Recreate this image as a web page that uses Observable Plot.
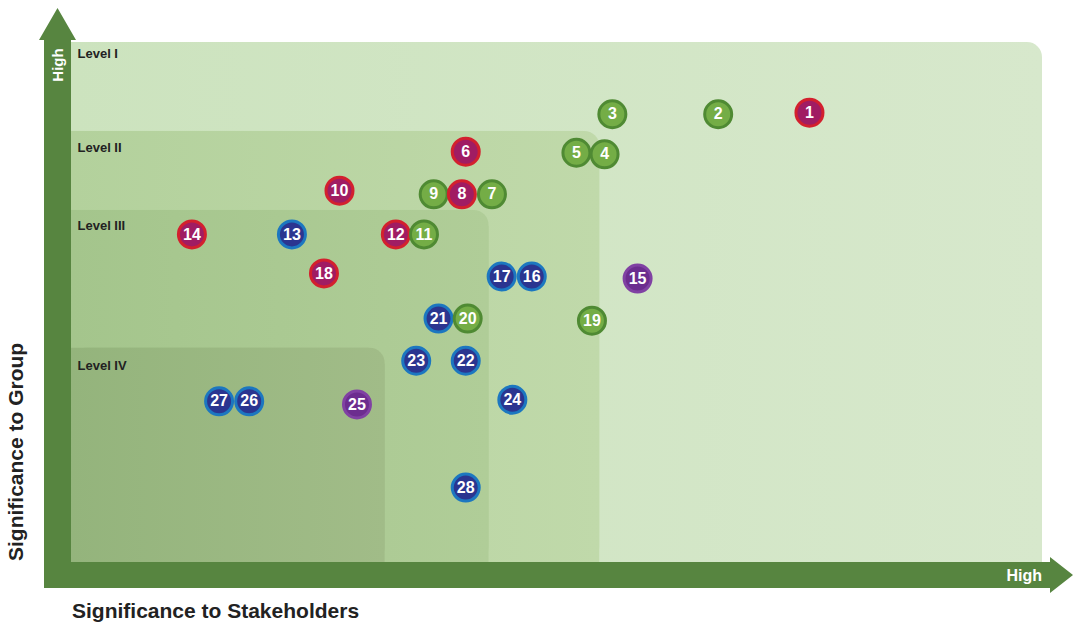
<!DOCTYPE html>
<html><head><meta charset="utf-8">
<script src="https://cdn.jsdelivr.net/npm/d3@7"></script>
<script src="https://cdn.jsdelivr.net/npm/@observablehq/plot@0.6"></script>
<style>body{margin:0;background:#fff;} svg{display:block}</style>
</head><body><div id="chart"></div>
<script>
// ---- data ----
const ids = [1,2,3,4,5,6,7,8,9,10,11,12,13,14,15,16,17,18,19,20,21,22,23,24,25,26,27,28];
const stakeholderScore = [76.0,66.6,55.7,54.9,52.0,40.6,43.3,40.2,37.3,27.6,36.3,33.4,22.7,12.4,58.3,47.4,44.3,26.0,53.6,40.8,37.8,40.6,35.5,45.4,29.4,18.3,15.2,40.6];
const groupScore = [86.5,86.2,86.2,78.5,78.8,79.0,70.8,70.8,70.8,71.5,63.1,63.1,63.1,63.1,54.6,55.0,55.0,55.6,46.5,46.9,46.9,38.8,38.8,31.3,30.4,31.0,31.0,14.4];
const category = ["crimson","green","green","green","green","crimson","green","crimson","green","crimson","green","crimson","blue","crimson","purple","blue","blue","crimson","green","green","blue","blue","blue","blue","purple","blue","blue","blue"];
const levelNames = ["Level I","Level II","Level III","Level IV"];
const levelStakeholderMax = [100, 54.4, 43.0, 32.3];
const levelGroupMax = [100, 82.9, 67.7, 41.2];
const xTitle = "Significance to Stakeholders";
const yTitle = "Significance to Group";
const highLabel = "High";

// ---- styles ----
const fillColors = {crimson:"#a01c63", green:"#74ad46", blue:"#2b3590", purple:"#6c2d8f"};
const strokeColors = {crimson:"#d3202e", green:"#4f8a33", blue:"#1c77c0", purple:"#8041a3"};
const levelGradients = [["#cce3be","#d7e8cc"],["#b3d19c","#c0d9aa"],["#a4c58c","#b0cd98"],["#94b47c","#a1bc88"]];
const labelDy = [11, 16, 15, 18];
const axisColor = "#578540";
const font = "'Liberation Sans', Arial, Helvetica, sans-serif";

const points = ids.map((id,i)=>({id, x: stakeholderScore[i], y: groupScore[i], cat: category[i]}))
  .sort((a,b)=>b.id-a.id);
const levels = levelNames.map((name,i)=>({name, i, x2: levelStakeholderMax[i], y2: levelGroupMax[i]}));

const gradDefs = (index, {x}) => {
  const defs = d3.create("svg:defs");
  levels.forEach(l => {
    const g = defs.append("linearGradient").attr("id","lvl"+l.i)
      .attr("gradientUnits","userSpaceOnUse")
      .attr("x1", x(0)).attr("x2", x(l.x2)).attr("y1",0).attr("y2",0);
    g.append("stop").attr("offset","0").attr("stop-color", levelGradients[l.i][0]);
    g.append("stop").attr("offset","1").attr("stop-color", levelGradients[l.i][1]);
  });
  return defs.node();
};

const levelMarks = levels.flatMap(l => {
  const d = [l];
  const fill = `url(#lvl${l.i})`;
  return [
    Plot.rect(d, {x1: () => 0, x2: "x2", y1: () => 0, y2: "y2", fill, rx: 15}),
    Plot.rect(d, {x1: () => 0, x2: "x2", y1: () => 0, y2: "y2", fill, insetRight: 16}),
    Plot.rect(d, {x1: () => 0, x2: "x2", y1: () => 0, y2: "y2", fill, insetTop: 16}),
    Plot.text(d, {x: () => 0, y: "y2", text: "name", dx: 6, dy: labelDy[l.i], textAnchor: "start",
      fontWeight: "bold", fontSize: 13, fill: "#222"})
  ];
});

const axesMark = (index, {x, y}) => {
  const x0 = x(0), x1 = x(100), y0 = y(0), y1 = y(100);
  const g = d3.create("svg:g");
  const p = [
    [x0-27, y0+26], [x0-27, y1-2], [x0-32, y1-2], [x0-13.5, y1-34], [x0+5, y1-2], [x0, y1-2],
    [x0, y0], [x1+8, y0], [x1+8, y0-5], [x1+31, y0+13], [x1+8, y0+31], [x1+8, y0+26]
  ];
  g.append("path").attr("d", "M" + p.map(q=>q.join(",")).join("L") + "Z").attr("fill", axisColor);
  g.append("text").attr("transform", `translate(${x0-13.5},${y1+23}) rotate(-90)`)
    .attr("text-anchor","middle").attr("dy","0.35em").attr("fill","#fff")
    .attr("font-weight","bold").attr("font-size",15).text(highLabel);
  g.append("text").attr("x", x1).attr("y", y0+13).attr("text-anchor","end").attr("dy","0.35em")
    .attr("fill","#fff").attr("font-weight","bold").attr("font-size",16).text(highLabel);
  g.append("text").attr("x", x0+1).attr("y", y0+56).attr("text-anchor","start").attr("fill","#222")
    .attr("font-weight","bold").attr("font-size",21).text(xTitle);
  g.append("text").attr("transform", `translate(${x0-48},${y0-1}) rotate(-90)`)
    .attr("text-anchor","start").attr("fill","#222")
    .attr("font-weight","bold").attr("font-size",21).text(yTitle);
  return g.node();
};

const chart = Plot.plot({
  width: 1073, height: 626,
  marginLeft: 71, marginRight: 31, marginTop: 42, marginBottom: 64,
  x: {domain: [0,100], axis: null},
  y: {domain: [0,100], axis: null},
  color: {type: "identity"},
  style: {fontFamily: font, background: "#fff", overflow: "visible"},
  marks: [
    gradDefs,
    ...levelMarks,
    axesMark,
    Plot.dot(points, {x: "x", y: "y", r: 13.5, fill: d => fillColors[d.cat], stroke: d => strokeColors[d.cat], strokeWidth: 3}),
    Plot.text(points, {x: "x", y: "y", text: d => String(d.id), fill: "#fff", fontSize: 16, fontWeight: "bold"})
  ]
});
document.getElementById("chart").append(chart);
</script>
</body></html>
